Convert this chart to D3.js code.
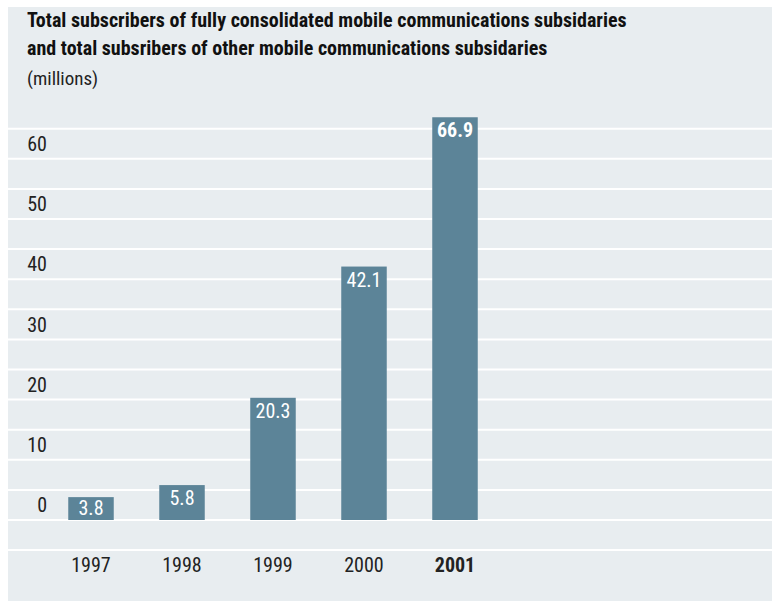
<!DOCTYPE html>
<html>
<head>
<meta charset="utf-8">
<script src="https://cdn.jsdelivr.net/npm/d3@7"></script>
<style>
  html, body { margin: 0; padding: 0; background: #ffffff; }
  svg { display: block; }
  text { font-family: "Liberation Sans Narrow", "Arial Narrow", "Roboto Condensed", "DejaVu Sans Condensed", sans-serif; }
</style>
</head>
<body>
<svg id="chart" width="772" height="603"></svg>
<script>
// Subscribers (millions) per year
const years = ["1997", "1998", "1999", "2000", "2001"];
const subscribers = [3.8, 5.8, 20.3, 42.1, 66.9];
const tickValues = [0, 10, 20, 30, 40, 50, 60];
const gridValues = [-5, 0, 5, 10, 15, 20, 25, 30, 35, 40, 45, 50, 55, 60, 65];
const titleLines = [
  "Total subscribers of fully consolidated mobile communications subsidaries",
  "and total subsribers of other mobile communications subsidaries"
];
const unitLabel = "(millions)";
const highlightYear = "2001";

const svg = d3.select("#chart");
const W = 772, H = 603;

// panel background
svg.append("rect")
  .attr("x", 8).attr("y", 7)
  .attr("width", W - 8).attr("height", 594)
  .attr("fill", "#e8edf0");

const y = d3.scaleLinear().domain([0, 65]).range([520, 520 - 65 * 6.02]);
const x = d3.scaleBand().domain(years).range([45.5, 500.5])
  .paddingInner(0.5).paddingOuter(0.25);

// horizontal grid lines
svg.append("g").selectAll("line")
  .data(gridValues)
  .join("line")
  .attr("x1", 8).attr("x2", W)
  .attr("y1", d => y(d)).attr("y2", d => y(d))
  .attr("stroke", "#ffffff")
  .attr("stroke-width", 2);

// y tick labels sit in the band above each grid line
svg.append("g").selectAll("text")
  .data(tickValues)
  .join("text")
  .attr("x", 47)
  .attr("y", d => y(d + 2.5))
  .attr("dy", "0.36em")
  .attr("text-anchor", "end")
  .attr("font-size", 20)
  .attr("fill", "#222")
  .text(d => d);

// bars
const data = years.map((yr, i) => ({ year: yr, value: subscribers[i] }));
svg.append("g").selectAll("rect")
  .data(data)
  .join("rect")
  .attr("x", d => x(d.year))
  .attr("width", x.bandwidth())
  .attr("y", d => y(d.value))
  .attr("height", d => y(0) - y(d.value))
  .attr("fill", "#5c8498");

// value labels inside bar tops
svg.append("g").selectAll("text")
  .data(data)
  .join("text")
  .attr("x", d => x(d.year) + x.bandwidth() / 2)
  .attr("y", d => Math.min(y(d.value) + 20, y(0) - 5))
  .attr("text-anchor", "middle")
  .attr("font-size", 20)
  .attr("font-weight", d => d.year === highlightYear ? "bold" : "normal")
  .attr("fill", "#ffffff")
  .text(d => d.value.toFixed(1));

// year labels
svg.append("g").selectAll("text")
  .data(years)
  .join("text")
  .attr("x", d => x(d) + x.bandwidth() / 2)
  .attr("y", 572)
  .attr("text-anchor", "middle")
  .attr("font-size", 20)
  .attr("font-weight", d => d === highlightYear ? "bold" : "normal")
  .attr("fill", "#222")
  .text(d => d);

// title
svg.append("g").selectAll("text")
  .data(titleLines)
  .join("text")
  .attr("x", 27)
  .attr("y", (d, i) => 27 + i * 28)
  .attr("font-size", 20)
  .attr("font-weight", "bold")
  .attr("fill", "#111")
  .text(d => d);

svg.append("text")
  .attr("x", 27).attr("y", 85)
  .attr("font-size", 19)
  .attr("fill", "#222")
  .text(unitLabel);
</script>
</body>
</html>
